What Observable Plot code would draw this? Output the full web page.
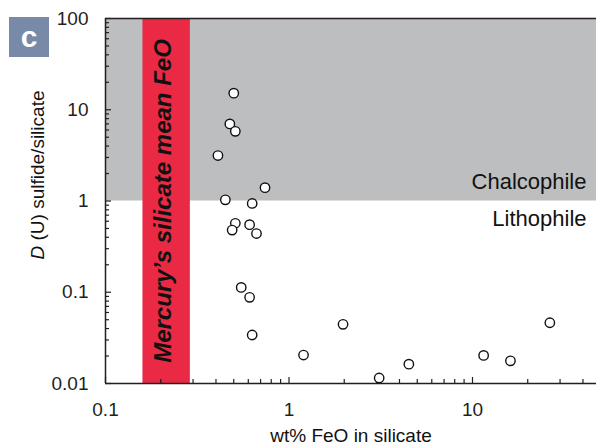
<!DOCTYPE html>
<html><head><meta charset="utf-8">
<script src="https://cdn.jsdelivr.net/npm/d3@7"></script>
<script src="https://cdn.jsdelivr.net/npm/@observablehq/plot@0.6"></script>
<style>
body{margin:0;background:#fff;}
#wrap{position:relative;width:596px;height:448px;}
#badge{position:absolute;left:9px;top:17px;width:40px;height:40px;background:#788aa7;color:#fff;font:bold 30px "Liberation Sans",Arial,sans-serif;display:flex;align-items:center;justify-content:center;z-index:2;}
#chart{position:absolute;left:0;top:0;}
</style></head><body>
<div id="wrap"><div id="chart"></div><div id="badge">c</div></div>
<script>
// Data
const feo = [0.50, 0.476, 0.51, 0.41, 0.74, 0.45, 0.63, 0.51, 0.49, 0.61, 0.665, 0.549, 0.61, 0.63, 1.2, 1.97, 3.1, 4.5, 11.5, 16.1, 26.4];
const dU  = [15.2, 7.0, 5.8, 3.15, 1.40, 1.03, 0.94, 0.57, 0.48, 0.55, 0.44, 0.113, 0.088, 0.034, 0.0205, 0.0445, 0.0115, 0.0163, 0.0203, 0.0177, 0.0463];
const xMajor = [0.1, 1, 10];
const xMinor = [0.2, 0.3, 0.4, 0.5, 0.6, 0.7, 0.8, 0.9, 2, 3, 4, 5, 6, 7, 8, 9, 20, 30, 40];
const yMajor = [0.01, 0.1, 1, 10, 100];
const yMinor = [0.02,0.03,0.04,0.05,0.06,0.07,0.08,0.09,0.2,0.3,0.4,0.5,0.6,0.7,0.8,0.9,2,3,4,5,6,7,8,9,20,30,40,50,60,70,80,90];
const xDomain = [0.1, 47.4];
const yDomain = [0.01, 100];
const band = [0.16, 0.29];          // Mercury's silicate mean FeO range
const boundary = 1;                 // chalcophile / lithophile boundary
const xLabel = "wt% FeO in silicate";
const yLabel = "D (U) sulfide/silicate";
const bandLabel = "Mercury’s silicate mean FeO";

const W = 596, H = 448, mT = 18, mB = 65, mL = 105, mR = 0;
const frameW = W - mL - mR, frameH = H - mT - mB;
const data = feo.map((x, i) => ({x, y: dU[i]}));
const ink = "#231f20";
// inward ticks: tick marks span the frame, inset down to the wanted length
const xTicks = (vals, len) => Plot.tickX(vals, {x: d => d, insetTop: frameH - len, stroke: ink, strokeWidth: 1.2});
const yTicks = (vals, len) => Plot.tickY(vals, {y: d => d, insetRight: frameW - len, stroke: ink, strokeWidth: 1.2});

const plot = Plot.plot({
  width: W, height: H,
  marginTop: mT, marginBottom: mB, marginLeft: mL, marginRight: mR,
  style: {fontFamily: '"Liberation Sans", Arial, sans-serif', fontSize: "19px", color: ink, background: "transparent"},
  x: {type: "log", domain: xDomain},
  y: {type: "log", domain: yDomain},
  marks: [
    Plot.rect([{y1: boundary, y2: yDomain[1]}], {y1: "y1", y2: "y2", fill: "#bdbec0"}),
    Plot.rect([{x1: band[0], x2: band[1]}], {x1: "x1", x2: "x2", fill: "#ea2a44"}),
    xTicks(xMajor, 6), xTicks(xMinor, 4),
    yTicks(yMajor, 6), yTicks(yMinor, 4),
    Plot.ruleX([xDomain[0]], {stroke: ink, strokeWidth: 1.5}),
    Plot.ruleY([yDomain[0]], {stroke: ink, strokeWidth: 1.5}),
    Plot.ruleY([yDomain[1]], {stroke: ink, strokeWidth: 1.5}),
    Plot.axisX({ticks: xMajor, tickSize: 0, tickPadding: 19, tickFormat: d => String(d), label: null}),
    Plot.axisY({ticks: yMajor, tickSize: 0, tickPadding: 17, tickFormat: d => String(d), label: null}),
    Plot.text([bandLabel], {x: () => Math.sqrt(band[0] * band[1]), text: d => d, rotate: -90, dx: -3,
      fontSize: 24, fontWeight: "bold", fontStyle: "italic", fill: "#111"}),
    Plot.dot(data, {x: "x", y: "y", r: 4.7, fill: "white", stroke: "#111", strokeWidth: 1.4}),
    Plot.text(["Chalcophile"], {y: () => boundary, frameAnchor: "right", text: d => d, textAnchor: "end",
      lineAnchor: "bottom", dx: -10, dy: -12, fontSize: 22, fill: "#111"}),
    Plot.text(["Lithophile"], {y: () => boundary, frameAnchor: "right", text: d => d, textAnchor: "end",
      lineAnchor: "top", dx: -10, dy: 9, fontSize: 22, fill: "#111"}),
    Plot.text([xLabel], {frameAnchor: "bottom", text: d => d, textAnchor: "middle", lineAnchor: "bottom", dy: 58, fontSize: 19, fill: "#111"}),
    Plot.text([yLabel], {frameAnchor: "left", text: d => d, textAnchor: "middle", rotate: -90, dx: -68, dy: -26, fontSize: 19, fill: "#111"})
  ]
});
document.getElementById("chart").appendChild(plot);
// italic D in the y label
plot.querySelectorAll("text").forEach(t => {
  if (t.textContent === yLabel) {
    t.innerHTML = '<tspan font-style="italic">D</tspan> (U) sulfide/silicate';
  }
});
</script>
</body></html>
